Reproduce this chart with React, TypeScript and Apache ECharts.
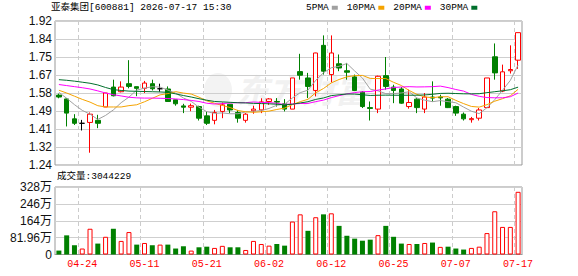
import React, { useEffect, useRef } from "react";
import * as echarts from "echarts";

const stockTitle = "亚泰集团[600881] 2026-07-17 15:30";
const volumeTitle = "成交量";

const dates = [
  "04-21", "04-22", "04-23", "04-24", "04-27", "04-28", "04-29", "04-30", "05-06", "05-07",
  "05-08", "05-11", "05-12", "05-13", "05-14", "05-15", "05-18", "05-19", "05-20", "05-21",
  "05-22", "05-25", "05-26", "05-27", "05-28", "05-29", "06-01", "06-02", "06-03", "06-04",
  "06-05", "06-08", "06-09", "06-10", "06-11", "06-12", "06-15", "06-16", "06-17", "06-18",
  "06-22", "06-23", "06-24", "06-25", "06-26", "06-29", "06-30", "07-01", "07-02", "07-03",
  "07-06", "07-07", "07-08", "07-09", "07-10", "07-13", "07-14", "07-15", "07-16", "07-17",
];

const opens = [
  1.570, 1.552, 1.458, 1.437, 1.441, 1.451, 1.514, 1.608, 1.586, 1.624,
  1.610, 1.602, 1.624, 1.600, 1.599, 1.548, 1.519, 1.513, 1.516, 1.472,
  1.451, 1.493, 1.527, 1.488, 1.451, 1.496, 1.500, 1.540, 1.540, 1.529,
  1.504, 1.681, 1.651, 1.592, 1.805, 1.667, 1.718, 1.685, 1.656, 1.584,
  1.511, 1.504, 1.662, 1.608, 1.599, 1.516, 1.551, 1.504, 1.561, 1.561,
  1.551, 1.516, 1.480, 1.454, 1.461, 1.511, 1.751, 1.589, 1.685, 1.735,
];
const closes = [
  1.561, 1.485, 1.437, 1.437, 1.480, 1.437, 1.580, 1.567, 1.608, 1.611,
  1.602, 1.627, 1.600, 1.600, 1.540, 1.529, 1.513, 1.520, 1.461, 1.437,
  1.488, 1.524, 1.500, 1.461, 1.480, 1.504, 1.538, 1.552, 1.537, 1.504,
  1.651, 1.664, 1.611, 1.769, 1.683, 1.769, 1.698, 1.678, 1.592, 1.516,
  1.507, 1.659, 1.611, 1.592, 1.532, 1.535, 1.511, 1.561, 1.556, 1.557,
  1.511, 1.485, 1.458, 1.459, 1.500, 1.651, 1.675, 1.680, 1.691, 1.865,
];
const lows = [
  1.555, 1.422, 1.429, 1.403, 1.298, 1.414, 1.514, 1.564, 1.583, 1.602,
  1.565, 1.580, 1.592, 1.586, 1.540, 1.520, 1.485, 1.494, 1.450, 1.429,
  1.432, 1.461, 1.485, 1.440, 1.440, 1.482, 1.485, 1.524, 1.516, 1.493,
  1.504, 1.643, 1.556, 1.564, 1.667, 1.630, 1.683, 1.643, 1.589, 1.509,
  1.450, 1.485, 1.596, 1.532, 1.529, 1.506, 1.485, 1.485, 1.540, 1.520,
  1.509, 1.472, 1.450, 1.440, 1.450, 1.511, 1.643, 1.584, 1.672, 1.694,
];
const highs = [
  1.577, 1.556, 1.480, 1.453, 1.488, 1.477, 1.580, 1.643, 1.635, 1.735,
  1.610, 1.637, 1.643, 1.624, 1.611, 1.548, 1.529, 1.530, 1.520, 1.493,
  1.500, 1.535, 1.527, 1.500, 1.485, 1.520, 1.555, 1.556, 1.556, 1.551,
  1.651, 1.765, 1.675, 1.770, 1.852, 1.852, 1.762, 1.722, 1.667, 1.589,
  1.540, 1.662, 1.750, 1.619, 1.608, 1.596, 1.556, 1.580, 1.635, 1.572,
  1.556, 1.520, 1.488, 1.467, 1.509, 1.651, 1.814, 1.714, 1.805, 1.865,
];

// volume in 万 shares
const volumes = [
  19, 93, 45, 29, 125, 53, 86, 125, 66, 109,
  48, 56, 45, 48, 48, 29, 40, 19, 35, 38,
  32, 42, 35, 35, 22, 66, 51, 43, 51, 43,
  160, 195, 115, 181, 195, 200, 139, 91, 77, 67,
  72, 94, 139, 86, 53, 51, 51, 56, 58, 37,
  38, 29, 24, 32, 38, 104, 210, 134, 134, 304.4229,
];

// moving-average values before the window is filled
const ma5Head = [1.583, 1.555, 1.525, 1.498];
const ma10Head = [1.593, 1.580, 1.565, 1.550, 1.537, 1.520, 1.514, 1.514, 1.514];
const ma20Head = [
  1.620, 1.615, 1.610, 1.605, 1.599, 1.590, 1.580, 1.572, 1.566, 1.560,
  1.557, 1.556, 1.556, 1.555, 1.554, 1.552, 1.549, 1.545, 1.540,
];
const ma30Head = [
  1.643, 1.640, 1.636, 1.631, 1.626, 1.618, 1.606, 1.596, 1.592, 1.589,
  1.588, 1.587, 1.586, 1.585, 1.583, 1.576, 1.568, 1.561, 1.553, 1.546,
  1.540, 1.538, 1.536, 1.534, 1.533, 1.531, 1.530, 1.529, 1.527,
];

const maNames = ["5PMA", "10PMA", "20PMA", "30PMA"];
const maPeriods = [5, 10, 20, 30];
const maHeads = [ma5Head, ma10Head, ma20Head, ma30Head];
const maColors = ["#a0a0a0", "#f5a300", "#ff00ff", "#006f2c"];

const priceTickLabels = ["1.24", "1.32", "1.41", "1.49", "1.58", "1.67", "1.75", "1.84", "1.92"];
const priceMin = 1.24;
const priceMax = 1.92;
const priceStep = 0.085;

const volTickLabels = ["0", "81.96万", "164万", "246万", "328万"];
const volStep = 81.96;

const RED = "#ff0000";
const GREEN = "#008000";

function movingAverage(n: number, head: number[]) {
  return closes.map((c, i) => {
    if (i < head.length) return head[i];
    let s = 0;
    for (let k = i - n + 1; k <= i; k++) s += closes[k];
    return +(s / n).toFixed(4);
  });
}

const isLabelIndex = (i: number) => i % 8 === 3;

export default function App() {
  const ref = useRef<HTMLDivElement>(null);

  useEffect(() => {
    if (!ref.current) return;
    const chart = echarts.init(ref.current, undefined, { renderer: "svg" });

    const candleData = dates.map((_, i) => [opens[i], closes[i], lows[i], highs[i]]);
    const volData = volumes.map((v, i) => {
      const up = i === 0 ? closes[0] >= opens[0] : closes[i] >= closes[i - 1];
      return {
        value: v,
        itemStyle: up
          ? { color: "#ffffff", borderColor: RED, borderWidth: 1 }
          : { color: GREEN, borderColor: GREEN, borderWidth: 0 },
      };
    });

    const monoFont = "'Liberation Mono', 'Noto Sans CJK SC', monospace";

    const option: any = {
      animation: false,
      backgroundColor: "#ffffff",
      legend: {
        data: maNames,
        left: 306,
        top: 3,
        align: "right",
        icon: "rect",
        itemWidth: 6,
        itemHeight: 4,
        itemGap: 9,
        padding: 0,
        textStyle: { fontSize: 9.5, fontFamily: monoFont, color: "#000", padding: [0, -2, 0, 0] },
      },
      graphic: [
        {
          type: "text",
          left: 51,
          top: 3,
          style: { text: stockTitle, font: `9.5px ${monoFont}`, fill: "#000" },
        },
        {
          type: "text",
          left: 57,
          top: 172,
          style: {
            text: `${volumeTitle}:${Math.round(volumes[volumes.length - 1] * 10000)}`,
            font: `9.5px ${monoFont}`,
            fill: "#000",
          },
        },
        {
          type: "text",
          left: 236,
          top: 72,
          z: -10,
          style: {
            text: "东方财富",
            font: "bold italic 33px 'Noto Sans CJK SC'",
            fill: "#f1f1f1",
          },
        },
        {
          type: "ellipse",
          z: -10,
          shape: { cx: 218, cy: 90, rx: 14, ry: 17 },
          style: { fill: "#f3f3f3" },
        },
      ],
      grid: [
        { left: 55, top: 21, width: 467, height: 144, show: true, borderColor: "#999", borderWidth: 1, backgroundColor: "transparent" },
        { left: 55, top: 187, width: 467, height: 67.5, show: true, borderColor: "#999", borderWidth: 1, backgroundColor: "transparent" },
      ],
      xAxis: [
        {
          type: "category",
          gridIndex: 0,
          data: dates,
          boundaryGap: true,
          axisLine: { show: false },
          axisTick: { show: false },
          axisLabel: { show: false },
          splitLine: {
            show: true,
            interval: (i: number) => isLabelIndex(i),
            lineStyle: { color: "#cccccc", type: [4, 3], width: 1 },
          },
        },
        {
          type: "category",
          gridIndex: 1,
          data: dates,
          boundaryGap: true,
          axisLine: { show: true, lineStyle: { color: "#999", width: 1 } },
          axisTick: { show: false },
          axisLabel: {
            show: true,
            interval: (i: number) => isLabelIndex(i),
            color: RED,
            fontSize: 10,
            fontFamily: monoFont,
            margin: 5,
          },
          splitLine: {
            show: true,
            interval: (i: number) => isLabelIndex(i),
            lineStyle: { color: "#cccccc", type: [4, 3], width: 1 },
          },
        },
      ],
      yAxis: [
        {
          type: "value",
          gridIndex: 0,
          min: priceMin,
          max: priceMax,
          interval: priceStep,
          axisLine: { show: false },
          axisTick: { show: false },
          axisLabel: {
            color: "#111",
            fontSize: 12,
            fontFamily: "'Liberation Sans', Arial, sans-serif",
            margin: 3,
            formatter: (v: number) => priceTickLabels[Math.round((v - priceMin) / priceStep)] ?? "",
          },
          splitLine: { show: true, lineStyle: { color: "#cfcfcf", width: 1 } },
        },
        {
          type: "value",
          gridIndex: 1,
          min: 0,
          max: volStep * 4,
          interval: volStep,
          axisLine: { show: false },
          axisTick: { show: false },
          axisLabel: {
            color: "#111",
            fontSize: 12,
            fontFamily: "'Liberation Sans', 'Noto Sans CJK SC', sans-serif",
            margin: 3,
            formatter: (v: number) => volTickLabels[Math.round(v / volStep)] ?? "",
          },
          splitLine: { show: true, lineStyle: { color: "#cfcfcf", width: 1 } },
        },
      ],
      series: [
        {
          name: "K",
          type: "candlestick",
          xAxisIndex: 0,
          yAxisIndex: 0,
          data: candleData,
          barWidth: 5,
          z: 3,
          itemStyle: {
            color: "#ffffff",
            color0: GREEN,
            borderColor: RED,
            borderColor0: GREEN,
            borderColorDoji: "#000000",
            borderWidth: 1,
          },
        },
        ...maNames.map((name, k) => ({
          name,
          type: "line",
          xAxisIndex: 0,
          yAxisIndex: 0,
          data: movingAverage(maPeriods[k], maHeads[k]),
          showSymbol: false,
          symbol: "none",
          z: 4,
          lineStyle: { color: maColors[k], width: 1 },
          itemStyle: { color: maColors[k] },
        })),
        {
          name: "VOL",
          type: "bar",
          xAxisIndex: 1,
          yAxisIndex: 1,
          data: volData,
          barWidth: 5,
        },
      ],
    };

    chart.setOption(option);
    return () => chart.dispose();
  }, []);

  return (
    <div
      ref={ref}
      style={{ position: "fixed", left: 0, top: 0, width: 578, height: 276, background: "#fff" }}
    />
  );
}
